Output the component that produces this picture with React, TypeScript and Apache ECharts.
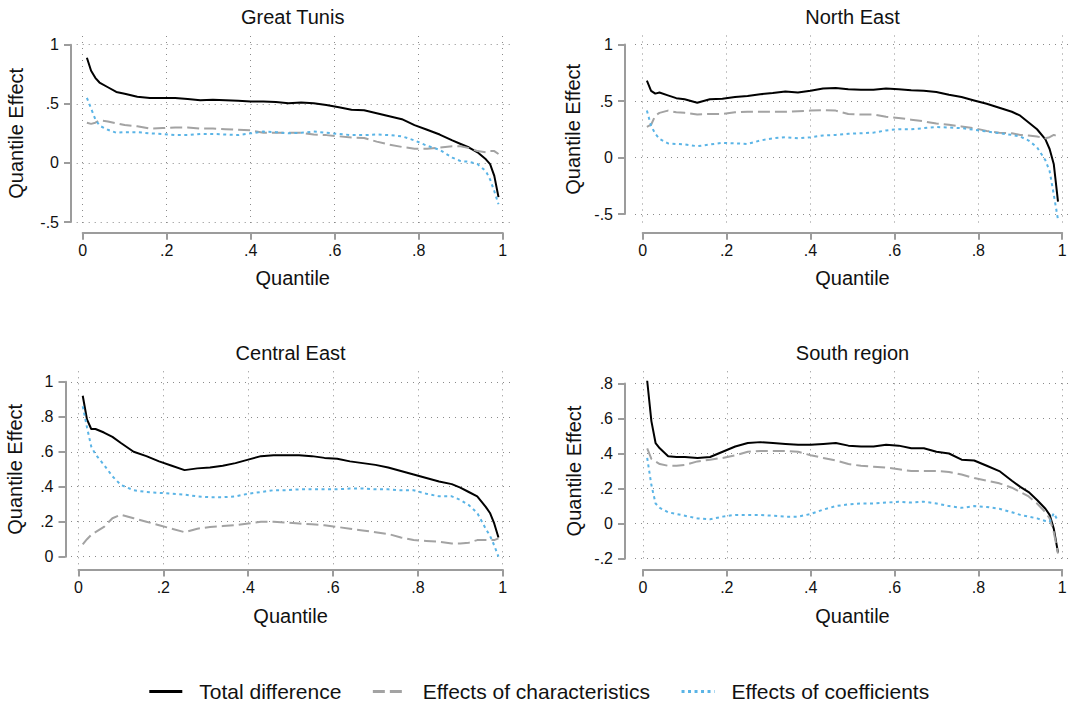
import React, { useEffect, useRef } from "react";
import * as echarts from "echarts";

// ---------------- data ----------------
const QUANTILES = [
  0.01, 0.02, 0.03, 0.04, 0.06, 0.08, 0.10,
  0.13, 0.16, 0.19, 0.22, 0.25, 0.28, 0.31, 0.34, 0.37, 0.40, 0.43, 0.46, 0.49,
  0.52, 0.55, 0.58, 0.61, 0.64, 0.67, 0.70, 0.73, 0.76, 0.79, 0.82, 0.85, 0.88,
  0.90, 0.92, 0.94, 0.96, 0.97, 0.98, 0.99,
];

const SERIES_NAMES = ["Total difference", "Effects of characteristics", "Effects of coefficients"];
const PANEL_TITLES = ["Great Tunis", "North East", "Central East", "South region"];
const X_TITLE = "Quantile";
const Y_TITLE = "Quantile Effect";

const X_TICKS = [0, 0.2, 0.4, 0.6, 0.8, 1];
const Y_TICKS_GT = [-0.5, 0, 0.5, 1];
const Y_TICKS_NE = [-0.5, 0, 0.5, 1];
const Y_TICKS_CE = [0, 0.2, 0.4, 0.6, 0.8, 1];
const Y_TICKS_SR = [-0.2, 0, 0.2, 0.4, 0.6, 0.8];

// Great Tunis
const GT_TOTAL = [0.89, 0.78, 0.72, 0.68, 0.64, 0.60, 0.585,
  0.56, 0.55, 0.55, 0.55, 0.54, 0.53, 0.535, 0.53, 0.525, 0.52, 0.52, 0.515, 0.505,
  0.51, 0.505, 0.49, 0.47, 0.45, 0.445, 0.42, 0.395, 0.37, 0.32, 0.28, 0.24, 0.19,
  0.16, 0.13, 0.09, 0.03, -0.01, -0.11, -0.29];
const GT_CHAR = [0.34, 0.33, 0.34, 0.36, 0.35, 0.335, 0.32,
  0.31, 0.29, 0.295, 0.30, 0.30, 0.29, 0.29, 0.285, 0.28, 0.275, 0.255, 0.255, 0.255,
  0.255, 0.24, 0.235, 0.225, 0.215, 0.21, 0.18, 0.155, 0.135, 0.12, 0.12, 0.13, 0.14,
  0.14, 0.125, 0.10, 0.09, 0.10, 0.10, 0.075];
const GT_COEF = [0.55, 0.46, 0.37, 0.315, 0.28, 0.255, 0.26,
  0.26, 0.25, 0.245, 0.235, 0.235, 0.245, 0.245, 0.24, 0.235, 0.25, 0.265, 0.26, 0.25,
  0.255, 0.265, 0.255, 0.245, 0.235, 0.235, 0.24, 0.235, 0.225, 0.19, 0.145, 0.11, 0.045,
  0.015, 0.01, -0.01, -0.07, -0.14, -0.24, -0.35];

// North East
const NE_TOTAL = [0.68, 0.59, 0.565, 0.575, 0.55, 0.525, 0.515,
  0.485, 0.515, 0.52, 0.535, 0.545, 0.56, 0.57, 0.585, 0.575, 0.59, 0.61, 0.615, 0.605,
  0.60, 0.60, 0.61, 0.605, 0.595, 0.59, 0.58, 0.555, 0.535, 0.505, 0.475, 0.44, 0.405,
  0.37, 0.31, 0.25, 0.16, 0.075, -0.06, -0.39];
const NE_CHAR = [0.27, 0.29, 0.37, 0.395, 0.415, 0.40, 0.395,
  0.38, 0.385, 0.385, 0.40, 0.405, 0.405, 0.405, 0.405, 0.41, 0.415, 0.42, 0.415, 0.385,
  0.38, 0.38, 0.36, 0.35, 0.335, 0.32, 0.30, 0.29, 0.275, 0.26, 0.235, 0.22, 0.215,
  0.20, 0.195, 0.185, 0.17, 0.18, 0.20, 0.185];
const NE_COEF = [0.415, 0.28, 0.21, 0.165, 0.125, 0.12, 0.115,
  0.10, 0.115, 0.13, 0.125, 0.12, 0.15, 0.17, 0.18, 0.17, 0.18, 0.195, 0.20, 0.21,
  0.215, 0.22, 0.24, 0.25, 0.25, 0.26, 0.27, 0.265, 0.26, 0.245, 0.23, 0.215, 0.20,
  0.185, 0.15, 0.09, -0.025, -0.12, -0.33, -0.55];

// Central East
const CE_TOTAL = [0.92, 0.785, 0.73, 0.73, 0.71, 0.685, 0.65,
  0.60, 0.575, 0.545, 0.52, 0.495, 0.505, 0.51, 0.52, 0.535, 0.555, 0.575, 0.58, 0.58,
  0.58, 0.575, 0.565, 0.56, 0.545, 0.535, 0.525, 0.51, 0.49, 0.47, 0.45, 0.43, 0.415,
  0.395, 0.37, 0.345, 0.285, 0.25, 0.19, 0.11];
const CE_CHAR = [0.07, 0.10, 0.125, 0.14, 0.17, 0.22, 0.24,
  0.22, 0.20, 0.18, 0.16, 0.14, 0.16, 0.17, 0.175, 0.18, 0.19, 0.20, 0.20, 0.195,
  0.19, 0.185, 0.18, 0.17, 0.16, 0.15, 0.14, 0.13, 0.11, 0.095, 0.09, 0.085, 0.075,
  0.075, 0.08, 0.095, 0.095, 0.095, 0.095, 0.105];
const CE_COEF = [0.86, 0.74, 0.63, 0.585, 0.525, 0.46, 0.41,
  0.38, 0.37, 0.365, 0.36, 0.355, 0.345, 0.34, 0.34, 0.345, 0.36, 0.37, 0.38, 0.38,
  0.385, 0.385, 0.385, 0.385, 0.39, 0.39, 0.385, 0.385, 0.38, 0.38, 0.36, 0.345, 0.345,
  0.325, 0.295, 0.25, 0.16, 0.12, 0.065, 0.0];

// South region
const SR_TOTAL = [0.815, 0.585, 0.46, 0.43, 0.385, 0.38, 0.38,
  0.375, 0.38, 0.41, 0.44, 0.46, 0.465, 0.46, 0.455, 0.45, 0.45, 0.455, 0.46, 0.445,
  0.44, 0.44, 0.45, 0.445, 0.43, 0.43, 0.41, 0.40, 0.365, 0.36, 0.33, 0.30, 0.245,
  0.21, 0.18, 0.135, 0.085, 0.05, -0.03, -0.165];
const SR_CHAR = [0.43, 0.37, 0.355, 0.34, 0.33, 0.33, 0.335,
  0.355, 0.365, 0.375, 0.39, 0.41, 0.415, 0.415, 0.415, 0.41, 0.39, 0.375, 0.36, 0.34,
  0.33, 0.325, 0.32, 0.31, 0.30, 0.30, 0.30, 0.295, 0.28, 0.26, 0.245, 0.23, 0.205,
  0.18, 0.155, 0.115, 0.065, 0.03, -0.05, -0.17];
const SR_COEF = [0.375, 0.22, 0.115, 0.09, 0.065, 0.055, 0.045,
  0.03, 0.025, 0.04, 0.05, 0.05, 0.05, 0.045, 0.04, 0.04, 0.055, 0.08, 0.10, 0.11,
  0.115, 0.115, 0.12, 0.125, 0.12, 0.125, 0.115, 0.10, 0.09, 0.10, 0.095, 0.085, 0.065,
  0.05, 0.04, 0.03, 0.015, 0.01, 0.06, 0.015];

const PANEL_DATA = [
  { yTicks: Y_TICKS_GT, series: [GT_TOTAL, GT_CHAR, GT_COEF] },
  { yTicks: Y_TICKS_NE, series: [NE_TOTAL, NE_CHAR, NE_COEF] },
  { yTicks: Y_TICKS_CE, series: [CE_TOTAL, CE_CHAR, CE_COEF] },
  { yTicks: Y_TICKS_SR, series: [SR_TOTAL, SR_CHAR, SR_COEF] },
];

// ---------------- layout & style ----------------
// x0/x1: pixel of x=0 / x=1; yTop/yBot: pixel of top / bottom y tick;
// xLine / yLine: pixel position of the offset axis lines; g: extent of dotted grid lines
const LAYOUT = [
  { x0: 82.7, x1: 502.7, yTop: 44.7, yBot: 222, xLine: 232.7, yLine: 71,
    g: { l: 76.7, r: 514, t: 36, b: 228 }, title: [292.7, 16.5], xName: [292.7, 278], yName: [15.5, 133.3] },
  { x0: 642.7, x1: 1062.2, yTop: 44.5, yBot: 214, xLine: 232.7, yLine: 625,
    g: { l: 635, r: 1073, t: 35.5, b: 226.7 }, title: [852.5, 16.5], xName: [852.5, 278], yName: [573, 129.3] },
  { x0: 78.5, x1: 502.7, yTop: 381.8, yBot: 556.7, xLine: 569.5, yLine: 65.5,
    g: { l: 71, r: 515, t: 371.3, b: 565 }, title: [290.6, 353], xName: [290.6, 615.5], yName: [15, 469.3] },
  { x0: 643, x1: 1062.2, yTop: 383.4, yBot: 558.7, xLine: 569.5, yLine: 625,
    g: { l: 635, r: 1073, t: 371.3, b: 563 }, title: [852.5, 353], xName: [852.5, 615.5], yName: [573.5, 471] },
];

const FONT = "'Liberation Sans', Arial, Helvetica, sans-serif";
const AXIS_GRAY = "#9c9c9c";
const GRID_GRAY = "#8a8a8a";
const SERIES_STYLES = [
  { color: "#000000", type: "solid" as any },
  { color: "#a3a3a3", type: [12, 5] as any },
  { color: "#5ab4e6", type: [3, 3.5] as any },
];

function fmt(v: number): string {
  const r = Math.round(v * 100) / 100;
  if (r === 0) return "0";
  return String(r).replace(/^(-?)0\./, "$1.");
}

function buildOption() {
  const grid: any[] = [];
  const xAxis: any[] = [];
  const yAxis: any[] = [];
  const series: any[] = [];
  const graphic: any[] = [];

  PANEL_DATA.forEach((pd, p) => {
    const L = LAYOUT[p];
    const yMin = pd.yTicks[0];
    const yMax = pd.yTicks[pd.yTicks.length - 1];
    const yInt = pd.yTicks[1] - pd.yTicks[0];
    const pxPerX = L.x1 - L.x0;
    const pxPerY = (L.yBot - L.yTop) / (yMax - yMin);

    grid.push({ left: L.x0, top: L.yTop, width: L.x1 - L.x0, height: L.yBot - L.yTop, containLabel: false });
    grid.push({ left: L.g.l, top: L.g.t, width: L.g.r - L.g.l, height: L.g.b - L.g.t, containLabel: false });

    const labelStyle = { fontSize: 16, color: "#111", fontFamily: FONT, formatter: (v: number) => fmt(v) };

    xAxis.push({
      type: "value", gridIndex: 2 * p, min: 0, max: 1, interval: 0.2,
      offset: L.xLine - L.yBot,
      axisLine: { show: true, onZero: false, lineStyle: { color: AXIS_GRAY, width: 2 } },
      axisTick: { show: true, length: 7, lineStyle: { color: AXIS_GRAY, width: 2 } },
      axisLabel: { ...labelStyle, margin: 10 },
      splitLine: { show: false },
    });
    yAxis.push({
      type: "value", gridIndex: 2 * p, min: yMin, max: yMax, interval: yInt,
      offset: L.x0 - L.yLine,
      axisLine: { show: true, onZero: false, lineStyle: { color: AXIS_GRAY, width: 2 } },
      axisTick: { show: true, length: 7, lineStyle: { color: AXIS_GRAY, width: 2 } },
      axisLabel: { ...labelStyle, margin: 12 },
      splitLine: { show: false },
    });

    const gxMin = (L.g.l - L.x0) / pxPerX;
    const gxMax = 1 + (L.g.r - L.x1) / pxPerX;
    const gyMin = yMin - (L.g.b - L.yBot) / pxPerY;
    const gyMax = yMax + (L.yTop - L.g.t) / pxPerY;
    const splitStyle = { show: true, lineStyle: { color: GRID_GRAY, width: 1, type: [1, 5] } };

    xAxis.push({
      type: "value", gridIndex: 2 * p + 1, min: gxMin, max: gxMax,
      axisLine: { show: false },
      axisTick: { show: false, customValues: X_TICKS },
      axisLabel: { show: false, customValues: X_TICKS },
      splitLine: splitStyle,
    });
    yAxis.push({
      type: "value", gridIndex: 2 * p + 1, min: gyMin, max: gyMax,
      axisLine: { show: false },
      axisTick: { show: false, customValues: pd.yTicks },
      axisLabel: { show: false, customValues: pd.yTicks },
      splitLine: splitStyle,
    });

    pd.series.forEach((vals, s) => {
      series.push({
        type: "line",
        name: SERIES_NAMES[s],
        xAxisIndex: 2 * p,
        yAxisIndex: 2 * p,
        data: QUANTILES.map((q, i) => [q, vals[i]]),
        symbol: "none",
        showSymbol: false,
        clip: false,
        color: SERIES_STYLES[s].color,
        lineStyle: { color: SERIES_STYLES[s].color, width: 2, type: SERIES_STYLES[s].type },
        emphasis: { disabled: true },
        z: 3 + s,
      });
    });

    const textBase = { fill: "#111", fontFamily: FONT, fontSize: 20, align: "center", verticalAlign: "middle", textAlign: "center", textVerticalAlign: "middle" };
    graphic.push({ type: "text", x: L.title[0], y: L.title[1], style: { ...textBase, text: PANEL_TITLES[p] } });
    graphic.push({ type: "text", x: L.xName[0], y: L.xName[1], style: { ...textBase, text: X_TITLE } });
    graphic.push({ type: "text", x: L.yName[0], y: L.yName[1], rotation: Math.PI / 2, style: { ...textBase, text: Y_TITLE } });
  });

  return {
    animation: false,
    backgroundColor: "#ffffff",
    grid,
    xAxis,
    yAxis,
    series,
    graphic,
    legend: {
      data: SERIES_NAMES,
      selectedMode: false,
      left: "center",
      top: 676,
      itemWidth: 33,
      itemHeight: 14,
      itemGap: 30,
      itemStyle: { color: "transparent", borderColor: "transparent", borderWidth: 0, opacity: 0 },
      lineStyle: { width: 3 },
      textStyle: { fontSize: 21, color: "#111", fontFamily: FONT, padding: [0, 0, 0, 12] },
    },
  };
}

export default function App() {
  const ref = useRef<HTMLDivElement>(null);
  useEffect(() => {
    if (!ref.current) return;
    const chart = echarts.init(ref.current, undefined, { renderer: "svg" });
    chart.setOption(buildOption() as any);
    return () => chart.dispose();
  }, []);
  return (
    <div
      ref={ref}
      style={{ position: "fixed", left: 0, top: 0, width: 1077, height: 702, background: "#fff" }}
    />
  );
}
